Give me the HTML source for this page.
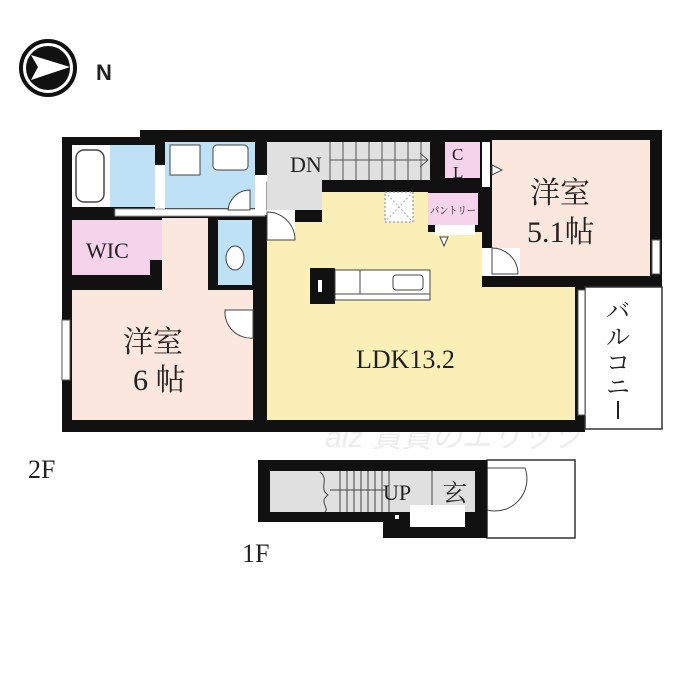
<!DOCTYPE html>
<html><head><meta charset="utf-8"><style>
html,body{margin:0;padding:0;background:#fff;}
svg{display:block;}
text{font-family:"Liberation Serif","Noto Serif CJK SC",serif;fill:#222;}
</style></head><body>
<svg width="700" height="700" viewBox="0 0 700 700" xmlns="http://www.w3.org/2000/svg">
<text x="325" y="447" font-size="30" style="fill:#ececec;font-family:'Liberation Sans','Noto Sans CJK JP',sans-serif;font-style:italic">aiz 賃貸のエリッツ</text>
<circle cx="48" cy="68" r="27" fill="#fff" stroke="#111" stroke-width="4"/>
<circle cx="48" cy="68" r="22" fill="#111"/>
<polygon points="31,55 70,67 31,80 38,67" fill="#fff"/>
<text x="96" y="80" style="font-family:'Liberation Sans',sans-serif;font-weight:bold" font-size="22">N</text>

<path d="M62,137 H140 V130 H662 V287 H585 V432 H62 Z" fill="#111"/>
<rect x="585" y="287" width="77" height="142" fill="#fff" stroke="#333" stroke-width="1.5"/>
<rect x="578" y="290" width="7" height="125" fill="#fff" stroke="#555" stroke-width="1"/>
<rect x="72" y="145" width="38" height="62" fill="#fff"/>
<rect x="76" y="150" width="28" height="52" rx="8" fill="#fff" stroke="#444" stroke-width="1.5"/>
<rect x="110" y="145" width="45" height="62" fill="#bfe1f5"/>
<rect x="165" y="142" width="90" height="66" fill="#bfe1f5"/>
<rect x="170" y="145" width="30" height="30" fill="#fff" stroke="#444"/>
<rect x="213" y="145" width="35" height="25" rx="4" fill="#fff" stroke="#444"/>
<rect x="155" y="165" width="10" height="45" fill="#fff"/>
<rect x="115" y="209" width="150" height="7" fill="#fff" stroke="#999" stroke-width="1"/>
<rect x="255" y="175" width="12" height="40" fill="#fff"/>
<path d="M228,210 A22,22 0 0 1 250,190 V210 Z" fill="#fff" stroke="#444"/>
<path d="M267,182 A28,28 0 0 1 295,210 H267 Z" fill="#fff" stroke="#444"/>
<rect x="267" y="142" width="163" height="38" fill="#e0e0e0"/>
<g stroke="#555" stroke-width="1">
<line x1="330" y1="142" x2="330" y2="180"/><line x1="343" y1="142" x2="343" y2="180"/><line x1="356" y1="142" x2="356" y2="180"/><line x1="369" y1="142" x2="369" y2="180"/><line x1="382" y1="142" x2="382" y2="180"/><line x1="395" y1="142" x2="395" y2="180"/><line x1="408" y1="142" x2="408" y2="180"/><line x1="421" y1="142" x2="421" y2="180"/>
<line x1="330" y1="160" x2="428" y2="160"/><polyline points="420,153 428,160 420,167" fill="none"/>
</g>
<rect x="267" y="180" width="55" height="30" fill="#e0e0e0"/>
<text x="290" y="172" font-size="22">DN</text>
<rect x="445" y="142" width="35" height="36" fill="#f5d3ea"/>
<text x="452" y="160" font-size="17">C</text><text x="453" y="178" font-size="17">L</text>
<rect x="482" y="142" width="8" height="45" fill="#fff"/>
<rect x="72" y="220" width="90" height="55" fill="#f5d3ea"/>
<text x="86" y="258" font-size="22">WIC</text>
<rect x="162" y="218" width="46" height="72" fill="#fbe7dd"/>
<rect x="150" y="260" width="12" height="30" fill="#111"/>
<rect x="218" y="220" width="34" height="65" fill="#bfe1f5"/>
<ellipse cx="235" cy="258" rx="9" ry="12" fill="#fff" stroke="#444"/>
<rect x="72" y="290" width="181" height="130" fill="#fbe7dd"/>
<rect x="162" y="280" width="46" height="12" fill="#fbe7dd"/>
<rect x="62" y="320" width="8" height="60" fill="#fff" stroke="#555"/>
<path d="M225,310 A26,26 0 0 0 253,338 V310 Z" fill="#fff" stroke="#444"/>
<text x="123" y="352" font-size="30">洋室</text>
<text x="133" y="390" font-size="30">6 帖</text>
<path d="M267,222 H322 V192 H428 V232 H482 V287 H575 V420 H267 Z" fill="#fbefb8"/>
<rect x="267" y="210" width="28" height="30" fill="#fff"/>
<path d="M267,212 A28,28 0 0 1 295,240 H267 Z" fill="#fff" stroke="#444"/>
<rect x="385" y="192" width="28" height="30" fill="#fff" stroke="#888" stroke-dasharray="2,2"/>
<line x1="385" y1="192" x2="413" y2="222" stroke="#aaa" stroke-dasharray="2,2"/>
<line x1="413" y1="192" x2="385" y2="222" stroke="#aaa" stroke-dasharray="2,2"/>
<rect x="428" y="193" width="50" height="32" fill="#f5d3ea"/>
<text x="430" y="214" font-size="10" textLength="46" lengthAdjust="spacingAndGlyphs">パントリー</text>
<rect x="435" y="225" width="40" height="10" fill="#fff"/>
<polygon points="440,237 448,237 444,246" fill="#fff" stroke="#444"/>
<rect x="310" y="268" width="25" height="36" fill="#111"/>
<rect x="318" y="280" width="4" height="12" fill="#fff"/>
<rect x="335" y="270" width="95" height="30" fill="#fff" stroke="#444"/>
<line x1="360" y1="270" x2="360" y2="294" stroke="#444"/>
<line x1="335" y1="294" x2="430" y2="294" stroke="#444"/>
<rect x="393" y="275" width="30" height="15" rx="3" fill="#fff" stroke="#444"/>
<text x="356" y="368" font-size="26">LDK13.2</text>
<rect x="492" y="140" width="158" height="136" fill="#fbe7dd"/>
<rect x="482" y="248" width="38" height="28" fill="#fff"/>
<path d="M492,248 A26,26 0 0 1 518,274 H492 Z" fill="#fff" stroke="#444"/>
<polygon points="492,165 502,170 492,175" fill="#fff" stroke="#444"/>
<rect x="652" y="240" width="8" height="34" fill="#fff" stroke="#555"/>
<text x="530" y="203" font-size="30">洋室</text>
<text x="527" y="242" font-size="30">5.1帖</text>
<text x="618" y="319" font-size="24" text-anchor="middle">バ</text>
<text x="618" y="345" font-size="24" text-anchor="middle">ル</text>
<text x="618" y="371" font-size="24" text-anchor="middle">コ</text>
<text x="618" y="395" font-size="24" text-anchor="middle">ニ</text>
<rect x="617" y="401" width="2" height="18" fill="#222"/>
<text x="28" y="478" font-size="26">2F</text>

<rect x="487" y="460" width="88" height="78" fill="#fff" stroke="#333" stroke-width="1.5"/>
<path d="M258,460 H487 V538 H383 V522 H258 Z" fill="#111"/>
<rect x="270" y="471" width="205" height="41" fill="#e0e0e0"/>
<g stroke="#444" stroke-width="1">
<line x1="340" y1="471" x2="340" y2="512"/><line x1="347" y1="471" x2="347" y2="512"/><line x1="354" y1="471" x2="354" y2="512"/><line x1="361" y1="471" x2="361" y2="512"/><line x1="368" y1="471" x2="368" y2="512"/><line x1="375" y1="471" x2="375" y2="512"/><line x1="382" y1="471" x2="382" y2="512"/><line x1="389" y1="471" x2="389" y2="512"/>
<line x1="330" y1="490" x2="385" y2="490"/><line x1="432" y1="471" x2="432" y2="512"/>
</g>
<path d="M320,472 C330,480 318,488 328,495 C318,502 330,508 325,512" fill="none" stroke="#444"/>
<rect x="410" y="505" width="55" height="22" fill="#fff"/>
<rect x="395" y="515" width="4" height="4" fill="#fff"/>
<path d="M487,468 H525 A32,32 0 0 1 487,510" fill="none" stroke="#444"/>
<text x="383" y="500" font-size="22">UP</text>
<text x="443" y="501" font-size="24">玄</text>
<text x="242" y="562" font-size="26">1F</text>
</svg>
</body></html>
